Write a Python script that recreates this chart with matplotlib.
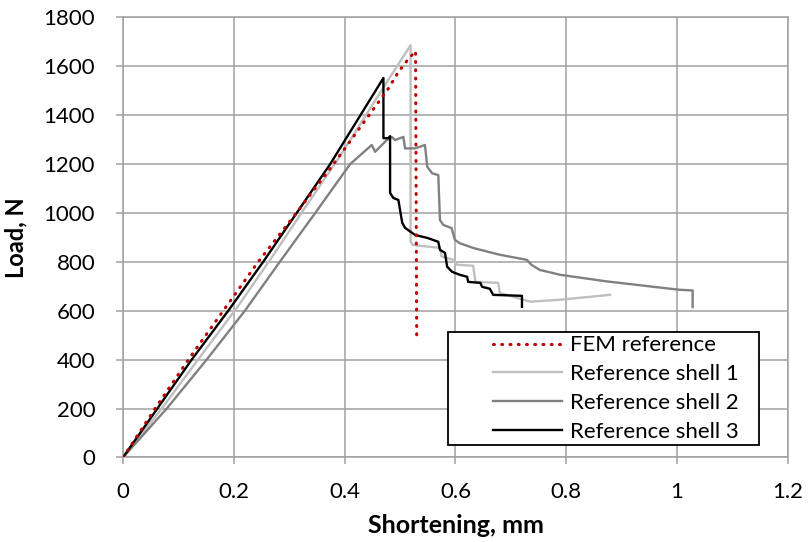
import matplotlib.pyplot as plt
from matplotlib.patches import Rectangle

# shortening (mm) and load (N)
fem_x = [0, 0.058, 0.118, 0.181, 0.244, 0.313, 0.380, 0.479, 0.488, 0.497, 0.505,
         0.513, 0.524, 0.528, 0.530]
fem_y = [0, 200, 400, 600, 800, 1000, 1200, 1509, 1543, 1577, 1600,
         1624, 1652, 1662, 502]

shell1_x = [0, 0.070, 0.142, 0.208, 0.266, 0.325, 0.391, 0.482, 0.519, 0.519, 0.523,
            0.572, 0.575, 0.596, 0.603, 0.632, 0.636, 0.677, 0.680, 0.735, 0.789, 0.879]
shell1_y = [0, 200, 420, 620, 810, 1010, 1230, 1556, 1686, 883, 869,
            857, 822, 808, 788, 784, 718, 714, 673, 637, 645, 665]

shell2_x = [0, 0.079, 0.151, 0.220, 0.283, 0.347, 0.410, 0.449, 0.455, 0.476, 0.485,
            0.491, 0.506, 0.509, 0.527, 0.545, 0.549, 0.558, 0.569, 0.572, 0.578, 0.593,
            0.599, 0.608, 0.633, 0.680, 0.729, 0.737, 0.752, 0.789, 0.873, 1.003, 1.028, 1.028]
shell2_y = [0, 200, 400, 600, 800, 1000, 1200, 1278, 1250, 1298, 1311,
            1298, 1311, 1264, 1264, 1278, 1189, 1162, 1155, 971, 951, 938,
            890, 876, 856, 829, 808, 788, 767, 747, 720, 686, 683, 615]

shell3_x = [0, 0.062, 0.124, 0.190, 0.253, 0.374, 0.470, 0.470, 0.479, 0.482, 0.482,
            0.488, 0.497, 0.500, 0.504, 0.509, 0.527, 0.549, 0.569, 0.572, 0.581, 0.585,
            0.594, 0.608, 0.621, 0.623, 0.645, 0.648, 0.662, 0.668, 0.720, 0.720]
shell3_y = [0, 200, 400, 600, 800, 1200, 1552, 1306, 1306, 1314, 1082,
            1061, 1053, 1012, 959, 939, 910, 898, 882, 849, 837, 780,
            759, 747, 739, 718, 714, 698, 690, 665, 661, 616]

x_ticks = [0, 0.2, 0.4, 0.6, 0.8, 1, 1.2]
x_labels = ['0', '0.2', '0.4', '0.6', '0.8', '1', '1.2']
y_ticks = [0, 200, 400, 600, 800, 1000, 1200, 1400, 1600, 1800]

plt.rcParams['font.family'] = ['Lato', 'DejaVu Sans']

fig = plt.figure(figsize=(8.09, 5.42), dpi=100)
ax = fig.add_axes([0.152, 0.156, 0.822, 0.812])

grid_col = '#A0A0A0'
ax.plot(fem_x, fem_y, color='#C00000', linestyle=(0, (0.3, 2.4)), lw=2.2,
        dash_capstyle='round', label='FEM reference', zorder=5)
ax.plot(shell1_x, shell1_y, color='#BFBFBF', lw=1.7, label='Reference shell 1', zorder=3)
ax.plot(shell2_x, shell2_y, color='#808080', lw=1.7, label='Reference shell 2', zorder=3)
ax.plot(shell3_x, shell3_y, color='black', lw=1.7, label='Reference shell 3', zorder=4)

ax.set_xlim(0, 1.2)
ax.set_ylim(0, 1800)
ax.set_xticks(x_ticks)
ax.set_xticklabels(x_labels)
ax.set_yticks(y_ticks)
ax.grid(True, color=grid_col, lw=1.1)
ax.set_axisbelow(True)
for s in ax.spines.values():
    s.set_color(grid_col)
    s.set_linewidth(1.1)
ax.tick_params(direction='out', length=5, width=1.1, color=grid_col, labelsize=16)
ax.tick_params(axis='x', pad=12.5)
ax.tick_params(axis='y', pad=15)

ax.set_xlabel('Shortening, mm', fontsize=18, fontweight='bold')
ax.set_ylabel('Load, N', fontsize=17, fontweight='bold')
ax.xaxis.set_label_coords(0.5, -0.128)
ax.yaxis.set_label_coords(-0.144, 0.5)

# legend box drawn separately (wide left margin like the original)
box = Rectangle((0.4887, 0.0273), 0.4677, 0.2586, transform=ax.transAxes,
                facecolor='white', edgecolor='black', lw=1.3, zorder=6)
ax.add_patch(box)
leg = ax.legend(loc='upper left', bbox_to_anchor=(0.5564, 0.2775), fontsize=16,
                frameon=False, handlelength=3.1, handletextpad=0.36,
                labelspacing=0.4, borderpad=0, borderaxespad=0)
leg.set_zorder(7)

plt.savefig('out.png', dpi=100, facecolor='white')
